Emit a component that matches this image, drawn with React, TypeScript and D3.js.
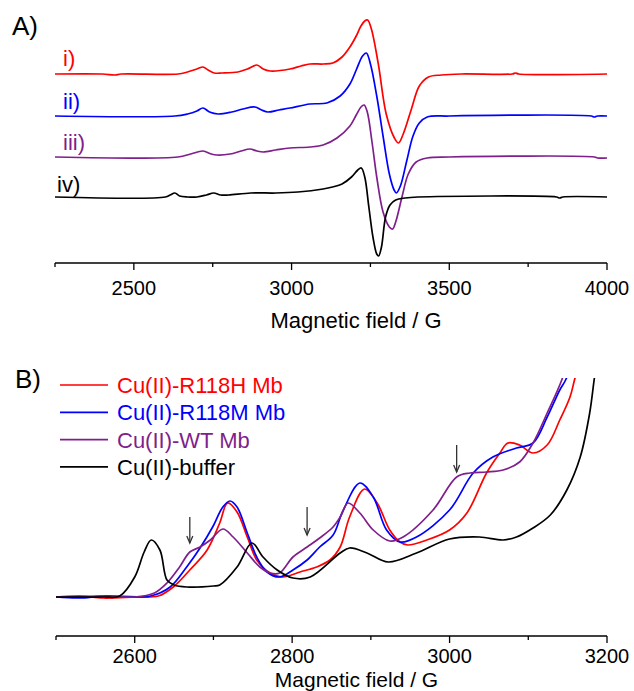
import React from 'react';
import * as d3 from 'd3';

const W = 634;
const H = 691;
const FONT = "'Liberation Sans', Arial, Helvetica, sans-serif";

const RED = '#ff0000';
const BLUE = '#0000ff';
const PURPLE = '#7f1f8c';
const BLACK = '#000000';

// ---------- Panel A data (field in G, intensity in a.u.) ----------
const specA_i: [number, number][] = [
  [2250, 0], [2400, 0], [2440, -1], [2460, 0], [2640, 0], [2670, 2], [2700, 5], [2719, 7], [2735, 4],
  [2755, 1], [2780, 1], [2830, 2], [2860, 5], [2890, 9], [2910, 5], [2932, 3], [2995, 5], [3030, 8],
  [3058, 10], [3100, 10], [3131, 11], [3160, 17], [3185, 27], [3205, 38], [3220, 48], [3232, 53],
  [3241, 54], [3253, 45], [3275, 10], [3300, -40], [3326, -64], [3339, -69], [3354, -60], [3380, -35],
  [3405, -12], [3434, -3], [3475, -1], [3538, 0], [3700, 0], [3710, 1], [3720, 0], [4000, 0],
];
const specA_ii: [number, number][] = [
  [2250, 0], [2630, 0], [2670, 2], [2700, 5], [2719, 8], [2740, 4], [2767, 2], [2810, 4], [2846, 7],
  [2884, 9], [2905, 6], [2925, 4], [2960, 6], [2995, 8], [3058, 12], [3112, 13], [3154, 20], [3185, 32],
  [3205, 46], [3225, 60], [3237, 63], [3250, 52], [3270, 20], [3290, -20], [3310, -58], [3325, -74],
  [3332, -77], [3345, -70], [3365, -45], [3385, -20], [3405, -7], [3430, -1], [3500, 0], [3950, 0],
  [3960, -1], [3970, 0], [4000, 0],
];
const specA_iii: [number, number][] = [
  [2250, 0], [2640, 0], [2680, 3], [2719, 6], [2745, 3], [2764, 2], [2805, 3], [2840, 6], [2868, 8],
  [2890, 6], [2910, 5], [2950, 7], [2995, 9], [3058, 10], [3100, 12], [3144, 19], [3185, 31], [3205, 42],
  [3220, 50], [3230, 52], [3240, 45], [3255, 15], [3270, -20], [3290, -55], [3310, -70], [3320, -72],
  [3330, -65], [3350, -40], [3370, -17], [3395, -5], [3430, -1], [3500, 0], [3960, 0], [3970, -1], [4000, -1],
];
const specA_iv: [number, number][] = [
  [2250, 0], [2600, 0], [2615, 2], [2630, 4], [2645, 1], [2670, 0], [2700, 0], [2730, 2], [2753, 4],
  [2775, 2], [2800, 2], [2870, 4], [2950, 4], [3020, 5], [3100, 8], [3130, 10], [3160, 13], [3190, 20],
  [3210, 27], [3221, 29], [3232, 20], [3245, -10], [3258, -40], [3270, -57], [3276, -59], [3285, -50],
  [3298, -20], [3312, -8], [3330, -3], [3360, -1], [3400, 0], [3840, 0], [3850, -1], [3860, 0], [4000, 0],
];
const labelsA = ['i)', 'ii)', 'iii)', 'iv)'];
const offsetsA = [189, 147, 106, 66];
const colorsA = [RED, BLUE, PURPLE, BLACK];
const dataA = [specA_i, specA_ii, specA_iii, specA_iv];
const majorTicksA = [2500, 3000, 3500, 4000];
const minorTicksA = [2250, 2750, 3250, 3750];

// ---------- Panel B data ----------
const specB_R118H: [number, number][] = [
  [2500, 0], [2530, 1], [2560, -1], [2600, 0], [2630, 1], [2649, 10], [2670, 27], [2692, 47], [2708, 74],
  [2718, 94], [2730, 85], [2743, 60], [2755, 37], [2772, 24], [2788, 20], [2810, 25], [2831, 30],
  [2848, 37], [2861, 50], [2873, 80], [2892, 108], [2908, 94], [2924, 67], [2937, 55], [2947, 52],
  [2971, 57], [3000, 67], [3022, 84], [3047, 124], [3064, 144], [3074, 154], [3089, 152], [3106, 144],
  [3124, 152], [3140, 177], [3153, 200], [3159, 218], [3170, 250],
];
const specB_R118M: [number, number][] = [
  [2500, 0], [2530, -1], [2560, 1], [2620, 1], [2645, 10], [2666, 30], [2683, 49], [2699, 70], [2712, 90],
  [2721, 96], [2730, 90], [2743, 64], [2755, 40], [2768, 25], [2784, 20], [2801, 27], [2819, 37],
  [2835, 50], [2852, 62], [2864, 85], [2886, 114], [2903, 100], [2920, 67], [2937, 55], [2958, 60],
  [3000, 87], [3030, 124], [3055, 140], [3085, 149], [3106, 154], [3124, 180], [3140, 207], [3148, 218],
  [3160, 250],
];
const specB_WT: [number, number][] = [
  [2500, 0], [2560, 1], [2600, 0], [2625, 4], [2641, 14], [2657, 30], [2670, 45], [2683, 50], [2696, 57],
  [2712, 68], [2725, 60], [2743, 44], [2759, 30], [2772, 24], [2784, 24], [2801, 40], [2819, 50],
  [2835, 59], [2852, 70], [2861, 80], [2871, 94], [2886, 84], [2903, 67], [2924, 56], [2941, 60],
  [2979, 87], [3009, 120], [3026, 124], [3047, 125], [3068, 127], [3089, 135], [3106, 154], [3124, 184],
  [3143, 218], [3155, 250],
];
const specB_buffer: [number, number][] = [
  [2500, 0], [2560, 0], [2581, 1], [2600, 20], [2612, 45], [2621, 57], [2632, 47], [2641, 17], [2650, 12],
  [2666, 10], [2700, 11], [2708, 12], [2730, 30], [2749, 54], [2763, 40], [2781, 27], [2801, 19],
  [2823, 20], [2861, 44], [2873, 49], [2895, 44], [2922, 35], [2958, 44], [3000, 58], [3038, 60],
  [3068, 57], [3085, 60], [3106, 69], [3128, 82], [3149, 107], [3166, 140], [3178, 184], [3184, 219],
  [3190, 250],
];
const legendB = ['Cu(II)-R118H Mb', 'Cu(II)-R118M Mb', 'Cu(II)-WT Mb', 'Cu(II)-buffer'];
const colorsB = [RED, BLUE, PURPLE, BLACK];
const dataB = [specB_R118H, specB_R118M, specB_WT, specB_buffer];
// arrows: field, tip intensity, tail intensity
const arrowField = [2670, 2819, 3009];
const arrowTip = [54, 62, 125];
const arrowTail = [80, 90, 152];
const majorTicksB = [2600, 2800, 3000, 3200];
const minorTicksB = [2500, 2700, 2900, 3100];

const xTitle = 'Magnetic field / G';

function Axis({ x, y0, major, minor }: { x: d3.ScaleLinear<number, number>; y0: number; major: number[]; minor: number[] }) {
  const [r0, r1] = x.range();
  return (
    <g>
      <line x1={r0} x2={r1} y1={y0} y2={y0} stroke="#000" strokeWidth={1.4} />
      {minor.map((t) => (
        <line key={'m' + t} x1={x(t)} x2={x(t)} y1={y0} y2={y0 + 4} stroke="#000" strokeWidth={1.3} />
      ))}
      {major.map((t) => (
        <line key={'M' + t} x1={x(t)} x2={x(t)} y1={y0} y2={y0 + 7} stroke="#000" strokeWidth={1.3} />
      ))}
    </g>
  );
}

export default function App() {
  const xA = d3.scaleLinear().domain([2250, 4000]).range([55, 607]);
  const yA = d3.scaleLinear().domain([0, 250]).range([263, 13]);
  const xB = d3.scaleLinear().domain([2500, 3200]).range([56, 607]);
  const yB = d3.scaleLinear().domain([0, 219]).range([597, 378]);

  const curve = d3.curveCatmullRom.alpha(0.5);

  const lineA = (data: [number, number][], off: number) =>
    d3.line<[number, number]>().x((d) => xA(d[0])).y((d) => yA(d[1] + off)).curve(curve)(data) || '';
  const lineB = d3.line<[number, number]>().x((d) => xB(d[0])).y((d) => yB(d[1])).curve(curve);

  const labelDy = [8, 7, 7, 5];
  const labelX = [63, 63, 63, 57];

  return (
    <svg
      width={W}
      height={H}
      viewBox={`0 0 ${W} ${H}`}
      style={{ position: 'absolute', left: 0, top: 0, background: '#fff', fontFamily: FONT }}
    >
      <rect x={0} y={0} width={W} height={H} fill="#fff" />
      <defs>
        <clipPath id="clipB">
          <rect x={xB.range()[0]} y={yB.range()[1]} width={xB.range()[1] - xB.range()[0]} height={yB(-50) - yB.range()[1]} />
        </clipPath>
      </defs>

      {/* Panel A */}
      <text x={12} y={35} fontSize={26} fill="#000">A)</text>
      {dataA.map((d, i) => (
        <path key={'a' + i} d={lineA(d, offsetsA[i])} fill="none" stroke={colorsA[i]} strokeWidth={1.7} strokeLinejoin="round" />
      ))}
      {labelsA.map((l, i) => (
        <text key={'la' + i} x={labelX[i]} y={yA(offsetsA[i]) - labelDy[i]} fontSize={22} fill={colorsA[i]}>{l}</text>
      ))}
      <Axis x={xA} y0={263} major={majorTicksA} minor={minorTicksA} />
      {majorTicksA.map((t) => (
        <text key={'ta' + t} x={xA(t)} y={295} fontSize={20} textAnchor="middle" fill="#000">{t}</text>
      ))}
      <text x={(xA.range()[0] + xA.range()[1]) / 2 + 25} y={328} fontSize={22} textAnchor="middle" fill="#000">{xTitle}</text>

      {/* Panel B */}
      <text x={15} y={388} fontSize={26} fill="#000">B)</text>
      {legendB.map((l, i) => (
        <g key={'lg' + i}>
          <line x1={60} x2={108} y1={385 + i * 27.3} y2={385 + i * 27.3} stroke={colorsB[i]} strokeWidth={1.7} />
          <text x={117} y={393 + i * 27.3} fontSize={22} fill={colorsB[i]}>{l}</text>
        </g>
      ))}
      <g clipPath="url(#clipB)">
        {dataB.map((d, i) => (
          <path key={'b' + i} d={lineB(d) || ''} fill="none" stroke={colorsB[i]} strokeWidth={1.7} strokeLinejoin="round" />
        ))}
      </g>
      {arrowField.map((f, i) => {
        const ax = xB(f);
        const yt = yB(arrowTip[i]);
        const yl = yB(arrowTail[i]);
        return (
          <g key={'ar' + i} stroke="#333" strokeWidth={1.3} fill="none">
            <line x1={ax} x2={ax} y1={yl} y2={yt} />
            <path d={`M${ax - 3},${yt - 7} L${ax},${yt} L${ax + 3},${yt - 7}`} />
          </g>
        );
      })}
      <Axis x={xB} y0={636} major={majorTicksB} minor={minorTicksB} />
      {majorTicksB.map((t) => (
        <text key={'tb' + t} x={xB(t)} y={663} fontSize={20} textAnchor="middle" fill="#000">{t}</text>
      ))}
      <text x={(xB.range()[0] + xB.range()[1]) / 2 + 25} y={687} fontSize={21} textAnchor="middle" fill="#000">{xTitle}</text>
    </svg>
  );
}
